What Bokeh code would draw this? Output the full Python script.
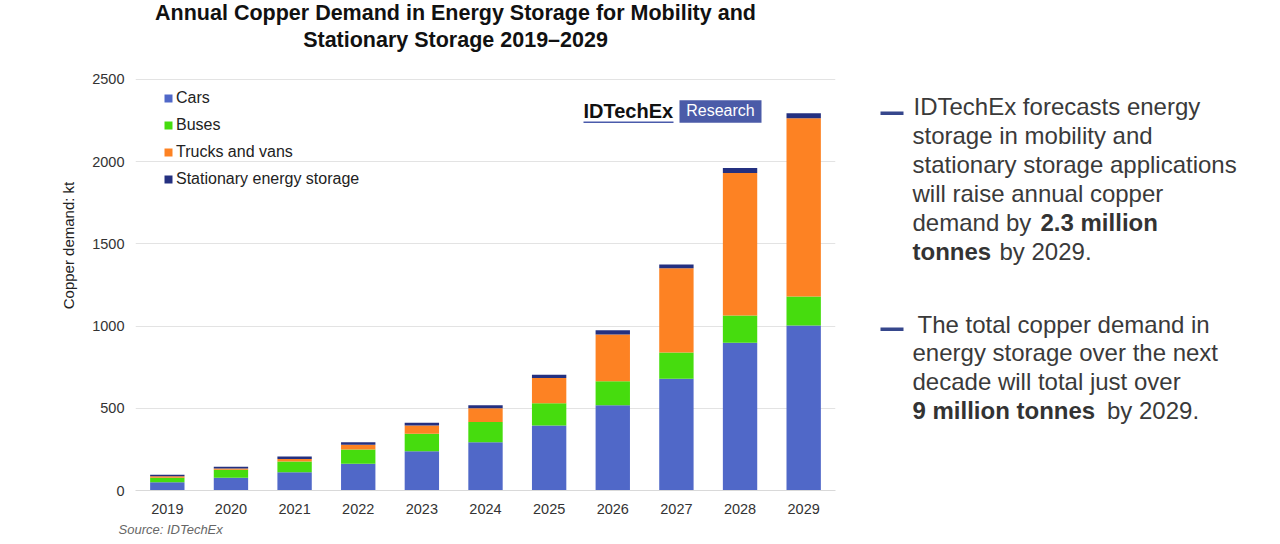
from bokeh.plotting import figure
from bokeh.layouts import row, column
from bokeh.models import Label, BoxAnnotation, FactorRange, Range1d, ColumnDataSource, FixedTicker, Title
from bokeh.embed import file_html
from bokeh.resources import INLINE

# ---------------- data ----------------
years = ["2019", "2020", "2021", "2022", "2023", "2024", "2025", "2026", "2027", "2028", "2029"]
cars = [50, 77, 111, 162, 239, 294, 395, 519, 679, 898, 1004]
buses = [28, 49, 66, 87, 106, 122, 136, 146, 160, 166, 176]
trucks = [8, 8, 15, 29, 50, 84, 154, 284, 513, 868, 1085]
stationary = [10, 10, 15, 16, 17, 19, 19, 26, 23, 29, 30]
series_names = ["Cars", "Buses", "Trucks and vans", "Stationary energy storage"]
series_keys = ["cars", "buses", "trucks", "stationary"]
series_colors = ["#5068c8", "#46dc0e", "#fd8223", "#243080"]
y_ticks = [0, 500, 1000, 1500, 2000, 2500]

title_lines = ["Annual Copper Demand in Energy Storage for Mobility and",
               "Stationary Storage 2019\u20132029"]
source_text = "Source: IDTechEx"

FONT = "Liberation Sans"
BL = 7  # baseline compensation

src = ColumnDataSource(dict(years=years, cars=cars, buses=buses, trucks=trucks, stationary=stationary))

# ---------------- chart ----------------
p = figure(x_range=FactorRange(factors=years), y_range=Range1d(0, 2980.5),
           width=870, height=544, output_backend="svg", toolbar_location=None, title=None,
           min_border_left=135, min_border_right=35, min_border_top=0, min_border_bottom=54)
p.outline_line_color = None

p.vbar_stack(series_keys, x="years", width=0.54, color=series_colors, line_color=None,
             source=src, legend_label=series_names)

for ax in (p.xaxis[0], p.yaxis[0]):
    ax.major_tick_line_color = None
    ax.minor_tick_line_color = None
    ax.major_tick_in = 0
    ax.major_tick_out = 0
    ax.major_label_text_font = FONT
    ax.major_label_text_font_size = "14.5px"
    ax.major_label_text_color = "#333333"
p.xaxis.axis_line_color = "#d9d9d9"
p.xaxis.major_label_standoff = 13
p.yaxis.axis_line_color = None
p.yaxis.ticker = FixedTicker(ticks=y_ticks)
p.yaxis.major_label_standoff = 11
p.yaxis.axis_label = "Copper demand: kt"
p.yaxis.axis_label_text_font = FONT
p.yaxis.axis_label_text_font_style = "normal"
p.yaxis.axis_label_text_font_size = "15px"
p.yaxis.axis_label_text_color = "#222222"
p.yaxis.axis_label_standoff = 12
p.xgrid.grid_line_color = None
p.ygrid.grid_line_color = "#e3e3e3"
p.ygrid.ticker = FixedTicker(ticks=y_ticks)

# source line as a left-aligned title below the x axis
p.add_layout(Title(text=source_text, align="left", offset=-17, standoff=7,
                   text_font=FONT, text_font_style="italic", text_font_size="13px",
                   text_color="#666666"), "below")

leg = p.legend[0]
leg.location = (28, 301)
leg.padding = 0
leg.margin = 0
leg.spacing = 7
leg.label_height = 20
leg.glyph_height = 10
leg.glyph_width = 10
leg.label_standoff = 3
leg.border_line_color = None
leg.background_fill_alpha = 0
leg.label_text_font = FONT
leg.label_text_font_size = "16px"
leg.label_text_color = "#222222"


def lab(fig, x, y, text, size, bold=False, color="#333333", align="left", italic=False):
    style = "bold" if bold else ("italic" if italic else "normal")
    fig.add_layout(Label(x=x, y=y + BL, x_units="screen", y_units="screen", text=text,
                         text_font=FONT, text_font_size=size, text_font_style=style,
                         text_color=color, text_align=align, text_baseline="alphabetic"))


def box(fig, l, r, t, b, color):
    fig.add_layout(BoxAnnotation(left=l, right=r, top=t, bottom=b,
                                 left_units="screen", right_units="screen",
                                 top_units="screen", bottom_units="screen",
                                 fill_color=color, fill_alpha=1, line_color=None))


# title (inside chart frame, above the 2500 gridline)
lab(p, 320, 470.3, title_lines[0], "21.5px", bold=True, color="#111111", align="center")
lab(p, 320, 443.5, title_lines[1], "21.5px", bold=True, color="#111111", align="center")

# logo
lab(p, 448, 372.7, "IDTechEx", "20px", bold=True, color="#111111")
box(p, 448, 538, 369, 367.5, "#4a5bab")
box(p, 544, 626, 390.3, 367.7, "#4b5ba8")
lab(p, 585, 373.5, "Research", "16px", color="white", align="center")

# ---------------- notes panel ----------------
n = figure(width=410, height=544, output_backend="svg", toolbar_location=None, title=None,
           x_range=Range1d(0, 1), y_range=Range1d(0, 1),
           x_axis_location=None, y_axis_location=None,
           min_border=0, min_border_left=0, min_border_right=0,
           min_border_top=0, min_border_bottom=0)
n.outline_line_color = None
n.grid.visible = False

TXT = "#3a3a3a"
BUL = "#36478c"
box(n, 10, 33, 433, 429.5, BUL)
lab(n, 43, 430.7, "IDTechEx forecasts energy", "24px", color=TXT)
lab(n, 42, 401.7, "storage in mobility and", "24px", color=TXT)
lab(n, 42, 372.7, "stationary storage applications", "24px", color=TXT)
lab(n, 42, 343.7, "will raise annual copper", "24px", color=TXT)
lab(n, 42, 314.7, "demand by ", "24px", color=TXT)
lab(n, 170, 314.7, "2.3 million", "24px", bold=True, color="#333333")
lab(n, 42, 285.7, "tonnes", "24px", bold=True, color="#333333")
lab(n, 129, 285.7, "by 2029.", "24px", color=TXT)

box(n, 10, 33, 217, 213.5, BUL)
lab(n, 47, 213.5, "The total copper demand in", "24px", color=TXT)
lab(n, 42, 184.8, "energy storage over the next", "24px", color=TXT)
lab(n, 42, 156, "decade will total just over", "24px", color=TXT)
lab(n, 42, 127.3, "9 million tonnes", "24px", bold=True, color="#333333")
lab(n, 236.5, 127.3, "by 2029.", "24px", color=TXT)

layout = row(column(p, spacing=0), n, spacing=0)

open("out.html", "w").write(file_html(layout, INLINE))
